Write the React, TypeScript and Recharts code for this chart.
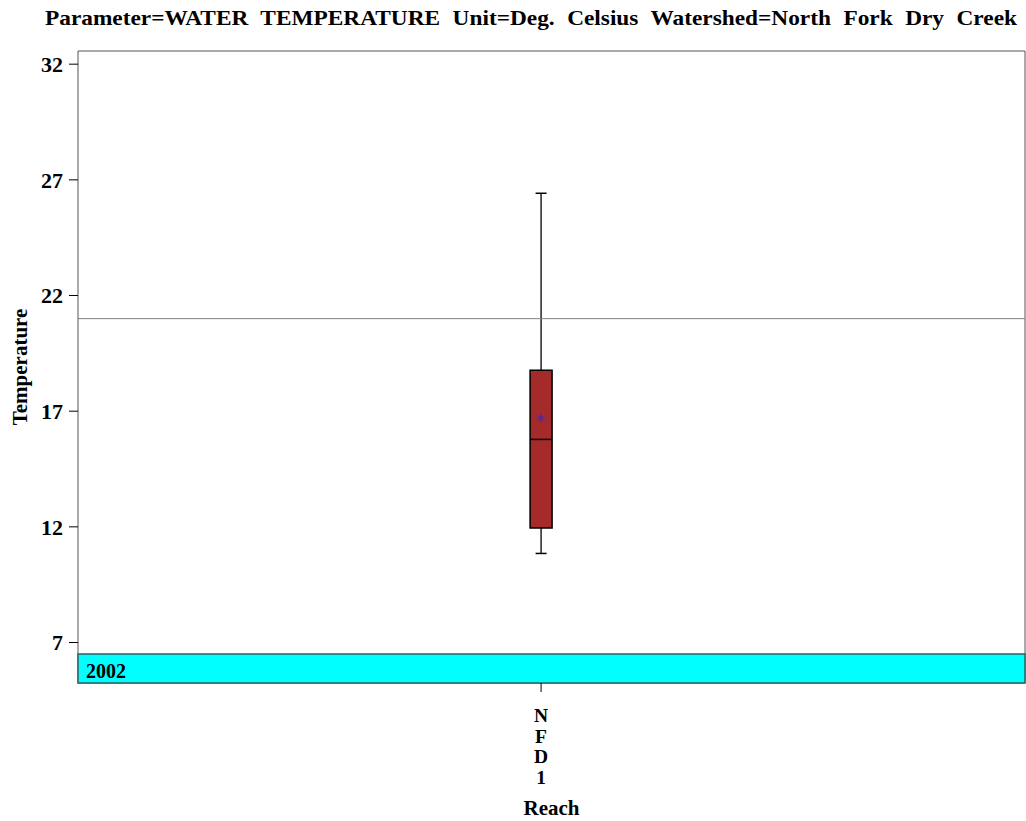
import React from 'react';
import {
  ComposedChart,
  Bar,
  XAxis,
  YAxis,
  ReferenceLine,
  ReferenceArea,
  Customized,
} from 'recharts';

// ---- data ----
const categories = ['NFD1'];
const lowerWhisker = [10.85];
const q1Values = [11.95];
const medianValues = [15.78];
const q3Values = [18.77];
const upperWhisker = [26.42];
const meanValues = [16.7];

const yTicks = [7, 12, 17, 22, 27, 32];
const yDomain = [5.25, 32.57];
const xDomain = [-0.489, 0.511];
const referenceValue = 21;
const yearLabel = '2002';
const yearBandRange = [5.25, 6.5];

const titleText =
  'Parameter=WATER TEMPERATURE Unit=Deg. Celsius Watershed=North Fork Dry Creek';

const data = categories.map((reach, i) => ({
  reach,
  pos: i,
  range: [lowerWhisker[i], upperWhisker[i]],
  low: lowerWhisker[i],
  q1: q1Values[i],
  median: medianValues[i],
  q3: q3Values[i],
  high: upperWhisker[i],
  mean: meanValues[i],
}));

const FONT = '"Liberation Serif", "Times New Roman", serif';

const BoxShape = (props: any) => {
  const { x, y, width, height } = props;
  const p = props.payload ?? props;
  const lo = p.low;
  const hi = p.high;
  const toPx = (v: number) => y + ((hi - v) / (hi - lo)) * height;
  const cx = x + width / 2;
  const capHalf = 5.5;
  const yHi = toPx(hi);
  const yLo = toPx(lo);
  const yQ3 = toPx(p.q3);
  const yQ1 = toPx(p.q1);
  const yMed = toPx(p.median);
  const yMean = toPx(p.mean);
  const s = 4;
  return (
    <g>
      <line x1={cx} x2={cx} y1={yHi} y2={yQ3} stroke="#000" strokeWidth={1.3} />
      <line x1={cx} x2={cx} y1={yQ1} y2={yLo} stroke="#000" strokeWidth={1.3} />
      <line x1={cx - capHalf} x2={cx + capHalf} y1={yHi} y2={yHi} stroke="#000" strokeWidth={1.5} />
      <line x1={cx - capHalf} x2={cx + capHalf} y1={yLo} y2={yLo} stroke="#000" strokeWidth={1.5} />
      <rect x={x} y={yQ3} width={width} height={yQ1 - yQ3} fill="#A52A2A" stroke="#000" strokeWidth={1.5} />
      <line x1={x} x2={x + width} y1={yMed} y2={yMed} stroke="#000" strokeWidth={1.5} />
      <g stroke="#2a2ae0" strokeWidth={1}>
        <line x1={cx} x2={cx} y1={yMean - s} y2={yMean + s} />
        <line x1={cx - s * 0.87} x2={cx + s * 0.87} y1={yMean - s * 0.5} y2={yMean + s * 0.5} />
        <line x1={cx - s * 0.87} x2={cx + s * 0.87} y1={yMean + s * 0.5} y2={yMean - s * 0.5} />
      </g>
    </g>
  );
};

const XTick = (props: any) => {
  const { x, y, payload } = props;
  const name = categories[Math.round(Number(payload.value))] ?? '';
  const letters = name.split('');
  return (
    <g>
      {letters.map((ch, i) => (
        <text
          key={i}
          x={x}
          y={y + 28 + i * 20.7}
          textAnchor="middle"
          fontFamily={FONT}
          fontWeight="bold"
          fontSize={19.5}
          fill="#000"
        >
          {ch}
        </text>
      ))}
    </g>
  );
};

const Title = () => (
  <text
    x={45}
    y={25}
    textAnchor="start"
    fontFamily={FONT}
    fontWeight="bold"
    fontSize={21}
    fill="#000"
    wordSpacing={6}
    textLength={972}
    lengthAdjust="spacingAndGlyphs"
  >
    {titleText}
  </text>
);

export default function App() {
  return (
    <div style={{ position: 'absolute', left: 0, top: 0, background: '#fff' }}>
      <ComposedChart
        width={1026}
        height={821}
        data={data}
        margin={{ top: 51, right: 1, bottom: 0, left: 18 }}
      >
        <XAxis
          dataKey="pos"
          type="number"
          domain={xDomain}
          allowDataOverflow
          ticks={[0]}
          height={138}
          axisLine={false}
          tickLine={{ stroke: '#000' }}
          tickSize={9}
          tick={<XTick />}
          interval={0}
          label={(lp: any) => {
            const vb = lp.viewBox || {};
            return (
              <text
                x={(vb.x ?? 78) + (vb.width ?? 947) / 2}
                y={(vb.y ?? 683) + 132}
                textAnchor="middle"
                fontFamily={FONT}
                fontWeight="bold"
                fontSize={21}
                fill="#000"
              >
                Reach
              </text>
            );
          }}
        />
        <YAxis
          type="number"
          width={60}
          domain={yDomain}
          allowDataOverflow
          ticks={yTicks}
          axisLine={false}
          tickLine={{ stroke: '#000' }}
          tickSize={9}
          tickMargin={6}
          tick={{ fontFamily: FONT, fontWeight: 'bold', fontSize: 22, fill: '#000' }}
          label={(lp: any) => {
            const vb = lp.viewBox || {};
            const cy = (vb.y ?? 51) + (vb.height ?? 632) / 2;
            return (
              <text
                x={27}
                y={cy}
                transform={`rotate(-90 27 ${cy})`}
                textAnchor="middle"
                fontFamily={FONT}
                fontWeight="bold"
                fontSize={21}
                fill="#000"
              >
                Temperature
              </text>
            );
          }}
        />
        <ReferenceArea
          x1={xDomain[0]}
          x2={xDomain[1]}
          y1={yDomain[0]}
          y2={yDomain[1]}
          fill="none"
          stroke="#555"
          strokeWidth={1}
          ifOverflow="visible"
        />
        <ReferenceArea
          x1={xDomain[0]}
          x2={xDomain[1]}
          y1={yearBandRange[0]}
          y2={yearBandRange[1]}
          fill="#00FFFF"
          fillOpacity={1}
          stroke="#2a6464"
          strokeWidth={1.5}
          ifOverflow="visible"
          label={(lp: any) => {
            const vb = lp.viewBox || {};
            return (
              <text
                x={(vb.x ?? 78) + 8}
                y={(vb.y ?? 654) + 24}
                fontFamily={FONT}
                fontWeight="bold"
                fontSize={20}
                fill="#000"
              >
                {yearLabel}
              </text>
            );
          }}
        />
        <ReferenceLine y={referenceValue} stroke="#808080" strokeWidth={1} />
        <Bar
          dataKey="range"
          barSize={22}
          shape={<BoxShape />}
          isAnimationActive={false}
        />
        <Customized component={Title} />
      </ComposedChart>
    </div>
  );
}
